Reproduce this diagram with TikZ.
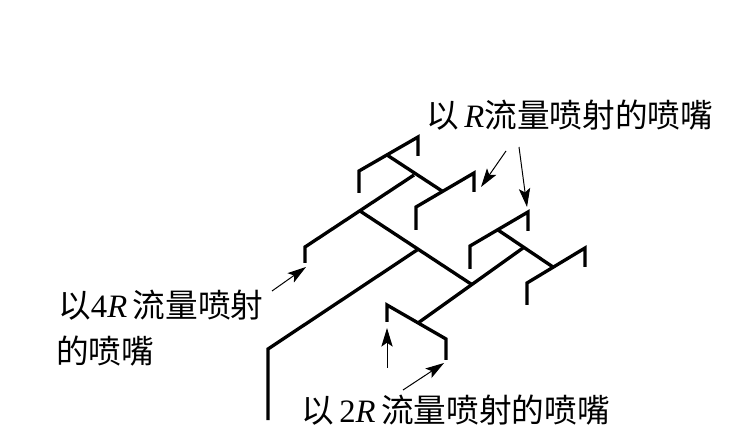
\documentclass[tikz,border=0pt]{standalone}
\usepackage{fontspec}
\setmainfont{Liberation Serif}
\newfontfamily\cjk{Noto Sans CJK SC}
\usetikzlibrary{arrows.meta}
\tikzset{
  x=0.75pt,y=-0.75pt,
  pipe/.style={line width=2.5pt,line cap=butt,line join=miter,black},
  pointer/.style={line width=0.75pt,black,-{Stealth[length=14pt,width=8.5pt,inset=3pt]}},
  lbl/.style={anchor=west,inner sep=0pt,font=\fontsize{24.5pt}{27pt}\selectfont},
}
\newcommand{\rr}{\textit{R}}
\begin{document}
\begin{tikzpicture}
\useasboundingbox (0,0) rectangle (752,448);
% pipe network points
\coordinate (a1) at (359,193); \coordinate (a2) at (359,171); \coordinate (a3) at (418,137); \coordinate (a4) at (418,156);
\coordinate (aj) at (387,155);
\coordinate (b1) at (416,230); \coordinate (b2) at (416,207); \coordinate (b3) at (474,173); \coordinate (b4) at (474,192);
\coordinate (bj) at (442,191);
\coordinate (hj) at (414,175);
\coordinate (c1) at (305,263); \coordinate (c2) at (305,247); \coordinate (m) at (360,211);
\coordinate (n) at (471,284); \coordinate (inj) at (417,250);
\coordinate (in1) at (268,349); \coordinate (in2) at (268,420);
\coordinate (d1) at (470,269); \coordinate (d2) at (470,246); \coordinate (d3) at (528,212); \coordinate (d4) at (528,231);
\coordinate (dj) at (498,230);
\coordinate (e1) at (527,305); \coordinate (e2) at (527,283); \coordinate (e3) at (585,248); \coordinate (e4) at (585,267);
\coordinate (ej) at (553,267); \coordinate (gj) at (523,248);
\coordinate (f1) at (387,322); \coordinate (f2) at (387,305); \coordinate (f3) at (446,339); \coordinate (f4) at (446,360);
\coordinate (fj) at (418,323);
% pipes
\draw[pipe] (a1) -- (a2) -- (a3) -- (a4);
\draw[pipe] (b1) -- (b2) -- (b3) -- (b4);
\draw[pipe] (aj) -- (bj);
\draw[pipe] (c1) -- (c2) -- (hj);
\draw[pipe] (m) -- (n);
\draw[pipe] (inj) -- (in1) -- (in2);
\draw[pipe] (d1) -- (d2) -- (d3) -- (d4);
\draw[pipe] (e1) -- (e2) -- (e3) -- (e4);
\draw[pipe] (dj) -- (ej);
\draw[pipe] (gj) -- (fj);
\draw[pipe] (f1) -- (f2) -- (f3) -- (f4);
% labels
\node[lbl] (tR) at (426,115) {{\cjk 以}\,\rr{\cjk 流量喷射的喷嘴}};
\node[lbl] (t4a) at (58,305) {{\cjk 以}4\rr\,{\cjk 流量喷射}};
\node[lbl] (t4b) at (56,351) {{\cjk 的喷嘴}};
\node[lbl] (t2) at (301,410) {{\cjk 以}\,2\rr\,{\cjk 流量喷射的喷嘴}};
% pointers
\coordinate (p1s) at (506,151); \coordinate (p1e) at (481,187);
\coordinate (p2s) at (519,147); \coordinate (p2e) at (527,207);
\coordinate (p3s) at (272,291); \coordinate (p3e) at (306,267);
\coordinate (p4s) at (387,368); \coordinate (p4e) at (387,328);
\coordinate (p5s) at (403,390); \coordinate (p5e) at (444,363);
\draw[pointer] (p1s) -- (p1e);
\draw[pointer] (p2s) -- (p2e);
\draw[pointer] (p3s) -- (p3e);
\draw[pointer] (p4s) -- (p4e);
\draw[pointer] (p5s) -- (p5e);
\end{tikzpicture}
\end{document}
